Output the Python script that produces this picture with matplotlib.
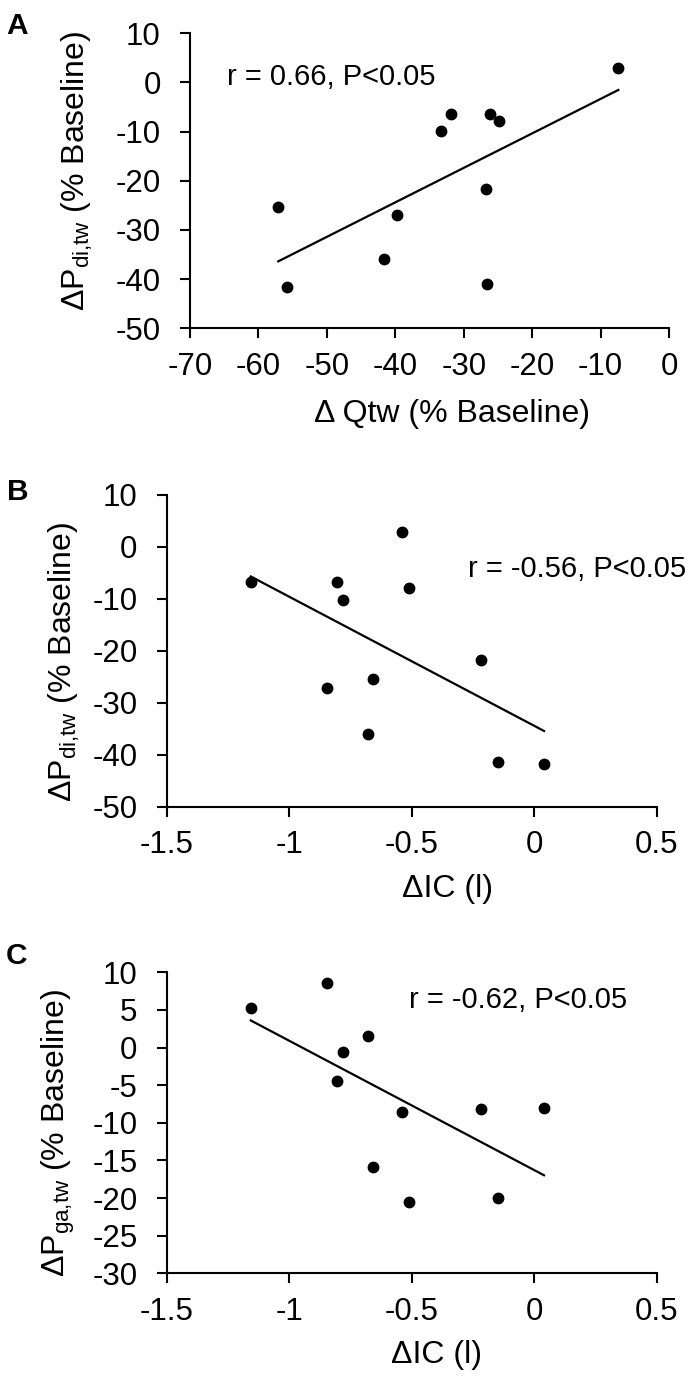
import numpy as np
import matplotlib
matplotlib.use("Agg")
import matplotlib.pyplot as plt
from matplotlib.ticker import FuncFormatter, MultipleLocator

plt.rcParams['font.family'] = ['Liberation Sans', 'DejaVu Sans']
plt.rcParams['mathtext.fontset'] = 'custom'
plt.rcParams['mathtext.rm'] = 'Liberation Sans'
plt.rcParams['mathtext.it'] = 'Liberation Sans:italic'
plt.rcParams['axes.unicode_minus'] = False

# ---- data ----
# Panel A: change in Qtw vs change in Pdi,tw
qtw_change = [-57.1, -55.8, -7.4, -31.8, -33.3, -26.2, -24.9, -26.7, -39.7, -41.7, -26.6]
pdi_change_a = [-25.3, -41.5, 2.9, -6.5, -9.9, -6.4, -7.8, -21.7, -26.9, -35.9, -41.0]

# Panel B: change in IC vs change in Pdi,tw
ic_change = [-1.157, -0.806, -0.779, -0.847, -0.541, -0.510, -0.217, -0.659, -0.677, -0.149, 0.040]
pdi_change_b = [-6.7, -6.7, -10.2, -27.1, 2.9, -7.9, -21.8, -25.5, -36.1, -41.3, -41.7]

# Panel C: change in IC vs change in Pga,tw
ic_change_c = [-1.157, -0.847, -0.779, -0.806, -0.677, -0.541, -0.217, 0.040, -0.659, -0.510, -0.149]
pga_change = [5.3, 8.6, -0.6, -4.5, 1.6, -8.6, -8.2, -8.0, -15.9, -20.5, -20.0]

annot_a = "r = 0.66, P<0.05"
annot_b = "r = -0.56, P<0.05"
annot_c = "r = -0.62, P<0.05"

W, H = 694, 1378
fig = plt.figure(figsize=(W / 100, H / 100), dpi=100)


def px_axes(left, top, right, bottom):
    return fig.add_axes([left / W, 1 - bottom / H, (right - left) / W, (bottom - top) / H])


TICK_FS = 22.5
LABEL_FS = 23
ANNOT_FS = 21


def style(ax, xlim, ylim, xstep, ystep):
    ax.set_xlim(*xlim)
    ax.set_ylim(*ylim)
    ax.xaxis.set_major_locator(MultipleLocator(xstep))
    ax.yaxis.set_major_locator(MultipleLocator(ystep))
    fmt = FuncFormatter(lambda v, p: ('%g' % round(v, 6)) if abs(v) > 1e-9 else '0')
    ax.xaxis.set_major_formatter(fmt)
    ax.yaxis.set_major_formatter(fmt)
    for s in ['top', 'right']:
        ax.spines[s].set_visible(False)
    for s in ['left', 'bottom']:
        ax.spines[s].set_linewidth(1.5)
    ax.tick_params(axis='both', direction='out', length=7, width=1.5, labelsize=TICK_FS)
    ax.tick_params(axis='y', pad=14)
    ax.tick_params(axis='x', pad=10)


def scatter_fit(ax, x, y):
    x = np.asarray(x)
    y = np.asarray(y)
    ax.plot(x, y, 'o', color='black', markersize=7.5, clip_on=False, zorder=3)
    m, b = np.polyfit(x, y, 1)
    xs = np.array([x.min(), x.max()])
    ax.plot(xs, m * xs + b, color='black', linewidth=1.6, zorder=2)


# Panel A
axA = px_axes(190, 33.3, 669, 328.3)
style(axA, (-70, 0), (-50, 10), 10, 10)
scatter_fit(axA, qtw_change, pdi_change_a)
axA.text(-64.6, -0.5, annot_a, fontsize=ANNOT_FS, ha='left', va='baseline')

# Panel B
axB = px_axes(166.7, 495, 656.7, 806.7)
style(axB, (-1.5, 0.5), (-50, 10), 0.5, 10)
scatter_fit(axB, ic_change, pdi_change_b)
axB.text(-0.271, -5.7, annot_b, fontsize=ANNOT_FS, ha='left', va='baseline')

# Panel C
axC = px_axes(166.7, 972.3, 656.7, 1273.3)
style(axC, (-1.5, 0.5), (-30, 10), 0.5, 5)
scatter_fit(axC, ic_change_c, pga_change)
axC.text(-0.511, 5.2, annot_c, fontsize=ANNOT_FS, ha='left', va='baseline')


def ftext(x, y, s, **kw):
    fig.text(x / W, 1 - y / H, s, **kw)


# y labels
ftext(77, 171, r"ΔP$_{\mathrm{di{,}tw}}$ (% Baseline)", rotation=90, ha='center', va='center', fontsize=LABEL_FS)
ftext(64, 662, r"ΔP$_{\mathrm{di{,}tw}}$ (% Baseline)", rotation=90, ha='center', va='center', fontsize=LABEL_FS)
ftext(58, 1133, r"ΔP$_{\mathrm{ga{,}tw}}$ (% Baseline)", rotation=90, ha='center', va='center', fontsize=LABEL_FS)

# x labels
ftext(451.5, 422, "Δ Qtw (% Baseline)", ha='center', va='baseline', fontsize=LABEL_FS)
ftext(447, 896.5, "ΔIC (l)", ha='center', va='baseline', fontsize=LABEL_FS)
ftext(436.7, 1363, "ΔIC (l)", ha='center', va='baseline', fontsize=LABEL_FS)

# panel letters
ftext(6, 34, "A", ha='left', va='baseline', fontsize=21.5, fontweight='bold')
ftext(7, 500, "B", ha='left', va='baseline', fontsize=21.5, fontweight='bold')
ftext(6, 964, "C", ha='left', va='baseline', fontsize=21.5, fontweight='bold')

fig.savefig("out.png", dpi=100)
